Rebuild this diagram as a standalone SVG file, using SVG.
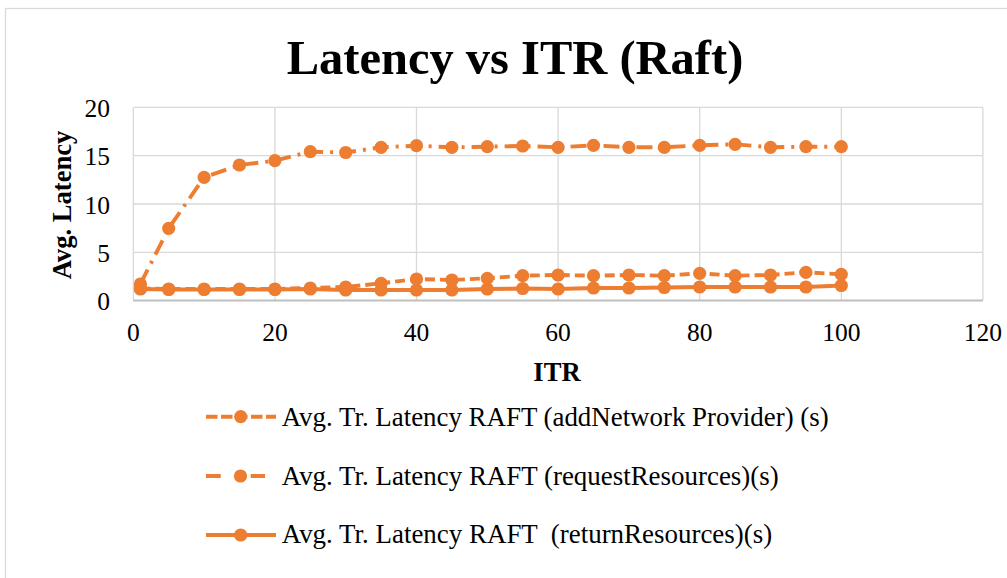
<svg xmlns="http://www.w3.org/2000/svg" xmlns:xlink="http://www.w3.org/1999/xlink" width="1007" height="578" viewBox="0 0 1007 578">
  <style>
    .frame{fill:#fff;stroke:#d9d9d9;stroke-width:1.3}
    .grid{stroke:#d9d9d9;stroke-width:1.3;fill:none}
    .axis{stroke:#bfbfbf;stroke-width:2;fill:none}
    .tick{font-family:"Liberation Serif","Times New Roman",serif;font-size:25.5px;fill:#000}
    .title{font-family:"Liberation Serif","Times New Roman",serif;font-size:48.5px;font-weight:bold;fill:#000}
    .atitle{font-family:"Liberation Serif","Times New Roman",serif;font-size:26.6px;font-weight:bold;fill:#000}
    .leg{font-family:"Liberation Serif","Times New Roman",serif;font-size:26.6px;fill:#000;white-space:pre}
    .s{fill:none;stroke:#ED7D31;stroke-width:3.9;stroke-linejoin:round}
    .dash{stroke-dasharray:10 5}
    .dashdot{stroke-dasharray:16 7 3 7}
    .mk{fill:#ED7D31}
  </style>
  <defs>
    <circle id="m" r="6.6" class="mk"/>
  </defs>

  <!-- chart frame -->
  <rect class="frame" x="5.5" y="8.5" width="1010" height="580"/>

  <!-- title -->
  <text class="title" x="515" y="74" text-anchor="middle">Latency vs ITR (Raft)</text>

  <!-- plot area grid -->
  <g id="grid">
    <path class="grid" d="M133.3 107.4H982.9M133.3 155.7H982.9M133.3 204H982.9M133.3 252.3H982.9"/>
    <path class="grid" d="M274.9 107.4V300.6M416.5 107.4V300.6M558.1 107.4V300.6M699.7 107.4V300.6M841.3 107.4V300.6M982.9 107.4V300.6M133.3 107.4V300.6"/>
    <path class="axis" d="M133.3 300.6H982.9"/>
  </g>

  <!-- axis tick labels -->
  <g id="y-ticks" class="tick" text-anchor="end">
    <text x="110" y="310">0</text>
    <text x="110" y="261.8">5</text>
    <text x="110" y="213.5">10</text>
    <text x="110" y="165.2">15</text>
    <text x="110" y="116.9">20</text>
  </g>
  <g id="x-ticks" class="tick" text-anchor="middle">
    <text x="133.3" y="340.7">0</text>
    <text x="274.9" y="340.7">20</text>
    <text x="416.5" y="340.7">40</text>
    <text x="558.1" y="340.7">60</text>
    <text x="699.7" y="340.7">80</text>
    <text x="841.3" y="340.7">100</text>
    <text x="982.9" y="340.7">120</text>
  </g>

  <!-- axis titles -->
  <text id="x-title" class="atitle" x="557" y="381" text-anchor="middle">ITR</text>
  <text id="y-title" class="atitle" transform="translate(70.5 205) rotate(-90)" text-anchor="middle">Avg. Latency</text>

  <!-- data series -->
  <g id="series">
    <g id="series-return">
      <polyline class="s" points="140.4,289 168.7,289.5 204.1,289.5 239.5,289.5 274.9,289.5 310.3,289 345.7,290 381.1,290 416.5,290 451.9,290 487.3,289 522.7,288.5 558.1,289 593.5,288 628.9,288 664.3,287.5 699.7,287 735.1,287 770.5,287 805.9,287 841.3,285.5"/>
      <use href="#m" x="140.4" y="289"/><use href="#m" x="168.7" y="289.5"/><use href="#m" x="204.1" y="289.5"/>
      <use href="#m" x="239.5" y="289.5"/><use href="#m" x="274.9" y="289.5"/><use href="#m" x="310.3" y="289"/>
      <use href="#m" x="345.7" y="290"/><use href="#m" x="381.1" y="290"/><use href="#m" x="416.5" y="290"/>
      <use href="#m" x="451.9" y="290"/><use href="#m" x="487.3" y="289"/><use href="#m" x="522.7" y="288.5"/>
      <use href="#m" x="558.1" y="289"/><use href="#m" x="593.5" y="288"/><use href="#m" x="628.9" y="288"/>
      <use href="#m" x="664.3" y="287.5"/><use href="#m" x="699.7" y="287"/><use href="#m" x="735.1" y="287"/>
      <use href="#m" x="770.5" y="287"/><use href="#m" x="805.9" y="287"/><use href="#m" x="841.3" y="285.5"/>
    </g>
    <g id="series-addnetwork">
      <polyline class="s dash" points="140.4,288.5 168.7,289 204.1,289 239.5,289 274.9,289 310.3,288 345.7,287 381.1,283.3 416.5,279 451.9,280 487.3,278.3 522.7,275.7 558.1,275 593.5,275.7 628.9,275 664.3,275.7 699.7,273.3 735.1,275.7 770.5,275 805.9,272.3 841.3,274.3"/>
      <use href="#m" x="140.4" y="288.5"/><use href="#m" x="168.7" y="289"/><use href="#m" x="204.1" y="289"/>
      <use href="#m" x="239.5" y="289"/><use href="#m" x="274.9" y="289"/><use href="#m" x="310.3" y="288"/>
      <use href="#m" x="345.7" y="287"/><use href="#m" x="381.1" y="283.3"/><use href="#m" x="416.5" y="279"/>
      <use href="#m" x="451.9" y="280"/><use href="#m" x="487.3" y="278.3"/><use href="#m" x="522.7" y="275.7"/>
      <use href="#m" x="558.1" y="275"/><use href="#m" x="593.5" y="275.7"/><use href="#m" x="628.9" y="275"/>
      <use href="#m" x="664.3" y="275.7"/><use href="#m" x="699.7" y="273.3"/><use href="#m" x="735.1" y="275.7"/>
      <use href="#m" x="770.5" y="275"/><use href="#m" x="805.9" y="272.3"/><use href="#m" x="841.3" y="274.3"/>
    </g>
    <g id="series-request">
      <polyline class="s dashdot" points="140.4,284 168.7,228.3 204.1,177.3 239.5,165 274.9,160.7 310.3,151.7 345.7,152.5 381.1,147.3 416.5,145.7 451.9,147.3 487.3,146.7 522.7,146 558.1,147.3 593.5,145.3 628.9,147.3 664.3,147.3 699.7,145.3 735.1,144.3 770.5,147.3 805.9,146.7 841.3,146.7"/>
      <use href="#m" x="140.4" y="284"/><use href="#m" x="168.7" y="228.3"/><use href="#m" x="204.1" y="177.3"/>
      <use href="#m" x="239.5" y="165"/><use href="#m" x="274.9" y="160.7"/><use href="#m" x="310.3" y="151.7"/>
      <use href="#m" x="345.7" y="152.5"/><use href="#m" x="381.1" y="147.3"/><use href="#m" x="416.5" y="145.7"/>
      <use href="#m" x="451.9" y="147.3"/><use href="#m" x="487.3" y="146.7"/><use href="#m" x="522.7" y="146"/>
      <use href="#m" x="558.1" y="147.3"/><use href="#m" x="593.5" y="145.3"/><use href="#m" x="628.9" y="147.3"/>
      <use href="#m" x="664.3" y="147.3"/><use href="#m" x="699.7" y="145.3"/><use href="#m" x="735.1" y="144.3"/>
      <use href="#m" x="770.5" y="147.3"/><use href="#m" x="805.9" y="146.7"/><use href="#m" x="841.3" y="146.7"/>
    </g>
  </g>

  <!-- legend -->
  <g id="legend">
    <g id="legend-addnetwork">
      <line class="s" x1="206" y1="416.7" x2="276" y2="416.7" stroke-dasharray="11.5 3.5"/>
      <use href="#m" x="240.7" y="416.7"/>
      <text class="leg" x="281.7" y="426" textLength="547" lengthAdjust="spacingAndGlyphs">Avg. Tr. Latency RAFT (addNetwork Provider) (s)</text>
    </g>
    <g id="legend-request">
      <path class="s" d="M206 476H220.7M250.7 476H265"/>
      <use href="#m" x="240.5" y="476"/>
      <text class="leg" x="281.7" y="485" textLength="497" lengthAdjust="spacingAndGlyphs">Avg. Tr. Latency RAFT (requestResources)(s)</text>
    </g>
    <g id="legend-return">
      <line class="s" x1="206" y1="535" x2="276" y2="535"/>
      <use href="#m" x="240.7" y="535"/>
      <text class="leg" x="281.7" y="543.3" xml:space="preserve" textLength="490.5" lengthAdjust="spacingAndGlyphs">Avg. Tr. Latency RAFT  (returnResources)(s)</text>
    </g>
  </g>
</svg>
